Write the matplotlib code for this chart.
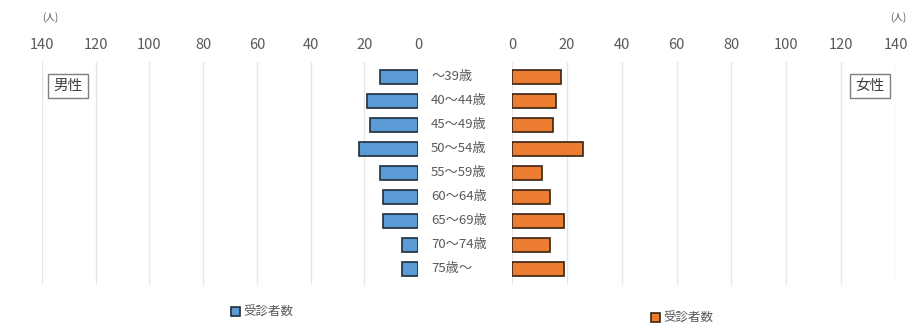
import matplotlib.pyplot as plt
import matplotlib.transforms as mtransforms

plt.rcParams['font.family'] = ['Noto Sans CJK JP', 'DejaVu Sans']

# 年齢階級別の受診者数
age_groups = ['～39歳', '40～44歳', '45～49歳', '50～54歳', '55～59歳',
              '60～64歳', '65～69歳', '70～74歳', '75歳～']
male = [14, 19, 18, 22, 14, 13, 13, 6, 6]
female = [18, 16, 15, 26, 11, 14, 19, 14, 19]
ticks = [0, 20, 40, 60, 80, 100, 120, 140]

gray = '#595959'
pos = list(range(len(age_groups)))

fig = plt.figure(figsize=(9.12, 3.25), dpi=100)
ax_l = fig.add_axes([42 / 912, 40 / 325, 376 / 912, 223 / 325])
ax_r = fig.add_axes([512 / 912, 40 / 325, 384 / 912, 223 / 325])

bars_m = ax_l.barh(pos, male, height=0.58, color='#5b9bd5', edgecolor='#1f2d3d', linewidth=1.2)
bars_f = ax_r.barh(pos, female, height=0.58, color='#ed7d31', edgecolor='#3a2414', linewidth=1.2)

ax_l.set_xlim(140, 0)
ax_r.set_xlim(0, 140)

for ax in (ax_l, ax_r):
    ax.set_ylim(8.67, -0.625)
    ax.set_xticks(ticks)
    ax.xaxis.tick_top()
    ax.tick_params(axis='x', length=0, labelsize=10.5, labelcolor=gray, pad=7)
    ax.set_yticks([])
    ax.grid(axis='x', color='#e6e6e6', linewidth=1)
    ax.set_axisbelow(True)
    for s in ax.spines.values():
        s.set_visible(False)

# 中央の年齢ラベル
trans = mtransforms.blended_transform_factory(fig.transFigure, ax_l.transData)
for p, lab in zip(pos, age_groups):
    fig.text(431 / 912, p, lab, transform=trans, ha='left', va='center',
             fontsize=9.5, color=gray)

# 単位
fig.text(42 / 912, 1 - 18 / 325, '(人)', fontsize=7, color=gray, ha='left', va='center')
fig.text(906 / 912, 1 - 18 / 325, '(人)', fontsize=7, color=gray, ha='right', va='center')

# 男性・女性の枠
box = dict(boxstyle='square,pad=0.35', facecolor='white', edgecolor='#7f7f7f', linewidth=1)
fig.text(68 / 912, 1 - 86 / 325, '男性', fontsize=10.5, color='#404040',
         ha='center', va='center', bbox=box)
fig.text(870 / 912, 1 - 86 / 325, '女性', fontsize=10.5, color='#404040',
         ha='center', va='center', bbox=box)

# 凡例
leg_kw = dict(frameon=False, fontsize=9, handlelength=0.7, handleheight=0.7,
              handletextpad=0.3, labelcolor=gray)
fig.legend([bars_m], ['受診者数'], loc='center left',
           bbox_to_anchor=(220 / 912, 1 - 312 / 325), **leg_kw)
fig.legend([bars_f], ['受診者数'], loc='center left',
           bbox_to_anchor=(640 / 912, 1 - 318 / 325), **leg_kw)

fig.savefig('out.png', dpi=100)
